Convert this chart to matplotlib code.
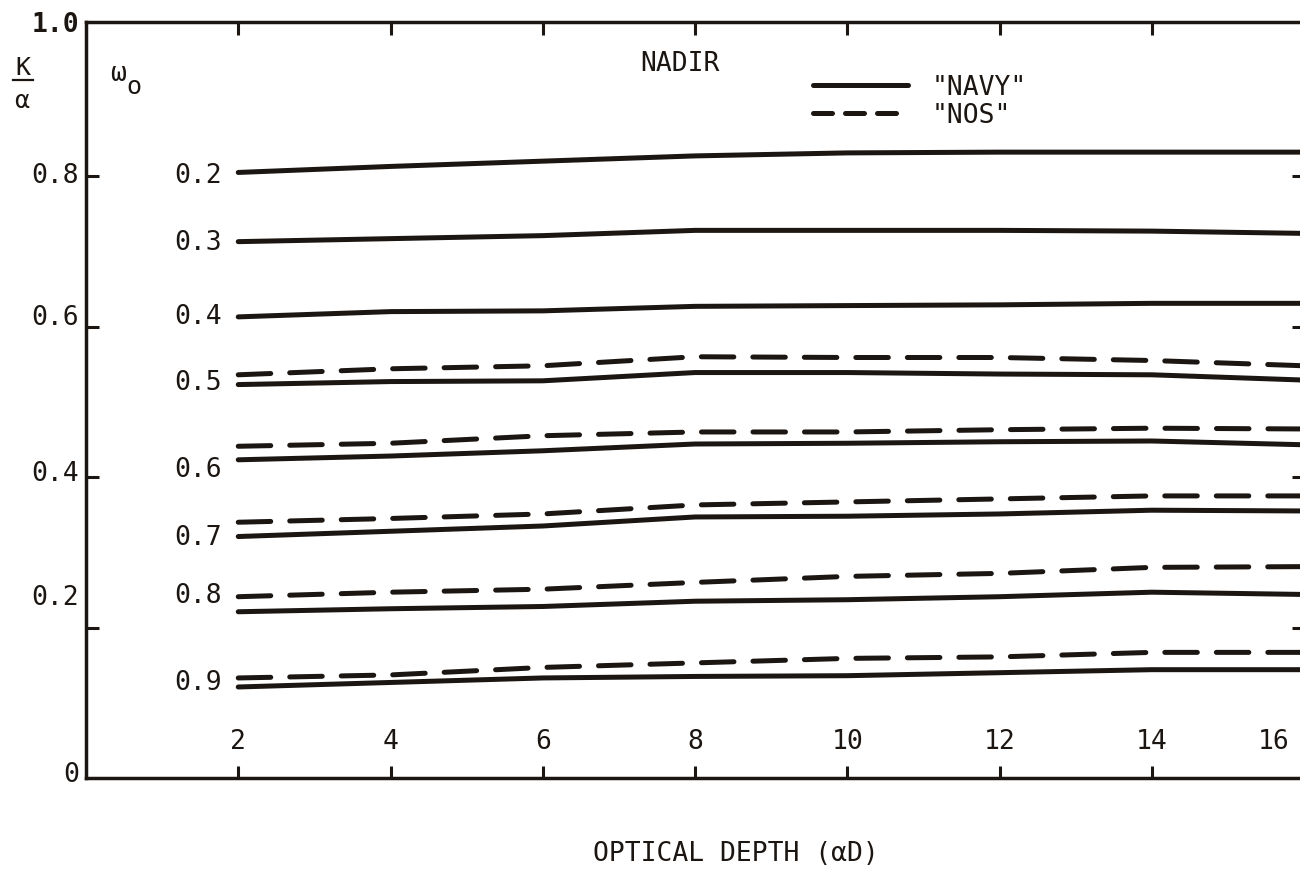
import matplotlib
matplotlib.use("Agg")
import matplotlib.pyplot as plt
from matplotlib.lines import Line2D

plt.rcParams['font.family'] = ['DejaVu Sans Mono', 'DejaVu Sans']

INK = '#1c1612'

# optical depth (alpha*D) where the curves were read
depth = [2, 4, 6, 8, 10, 12, 14, 16]

# K/alpha for each single-scattering albedo, "NAVY" model (solid)
navy = {
    '0.2': [0.805, 0.813, 0.820, 0.827, 0.831, 0.832, 0.832, 0.832],
    '0.3': [0.713, 0.717, 0.721, 0.728, 0.728, 0.728, 0.727, 0.724],
    '0.4': [0.613, 0.620, 0.621, 0.627, 0.628, 0.629, 0.631, 0.631],
    '0.5': [0.523, 0.527, 0.528, 0.539, 0.539, 0.537, 0.536, 0.529],
    '0.6': [0.423, 0.428, 0.435, 0.444, 0.445, 0.447, 0.448, 0.443],
    '0.7': [0.321, 0.328, 0.335, 0.347, 0.348, 0.351, 0.356, 0.355],
    '0.8': [0.221, 0.225, 0.228, 0.235, 0.237, 0.241, 0.247, 0.244],
    '0.9': [0.121, 0.127, 0.133, 0.135, 0.136, 0.140, 0.144, 0.144],
}

# "NOS" model (dashed), only computed for albedo 0.5 - 0.9
nos = {
    '0.5': [0.536, 0.544, 0.548, 0.560, 0.559, 0.559, 0.555, 0.548],
    '0.6': [0.441, 0.445, 0.455, 0.460, 0.460, 0.463, 0.465, 0.464],
    '0.7': [0.340, 0.345, 0.351, 0.363, 0.367, 0.371, 0.375, 0.375],
    '0.8': [0.241, 0.247, 0.251, 0.260, 0.268, 0.272, 0.280, 0.281],
    '0.9': [0.133, 0.137, 0.147, 0.153, 0.159, 0.161, 0.167, 0.167],
}

# where the albedo names sit next to the curves
albedo_label_y = [0.802, 0.713, 0.614, 0.527, 0.411, 0.320, 0.243, 0.128]

x_ticks = [2, 4, 6, 8, 10, 12, 14, 16]
x_tick_text_x = [2, 4, 6, 8, 10, 12, 14, 15.6]
y_ticks = [0.2, 0.4, 0.6, 0.8]
y_tick_text = ['0', '0.2', '0.4', '0.6', '0.8', '1.0']
y_tick_text_y = [0.005, 0.241, 0.406, 0.613, 0.802, 1.003]

fig = plt.figure(figsize=(13, 8.7), dpi=100)
ax = fig.add_axes([86 / 1300, 91 / 870, 1218 / 1300, 756 / 870])
ax.set_xlim(0, 16)
ax.set_ylim(0, 1.005)

lw = 3.6
for name, vals in navy.items():
    ax.plot(depth, vals, color=INK, lw=lw, solid_capstyle='round')
for name, vals in nos.items():
    ax.plot(depth, vals, color=INK, lw=lw, dashes=(6.5, 3.8),
            dash_capstyle='round')

for name, y in zip(navy.keys(), albedo_label_y):
    ax.text(1.78, y, name, ha='right', va='center', fontsize=19, color=INK)

# frame and inward ticks
for side in ['left', 'bottom', 'top', 'right']:
    ax.spines[side].set_linewidth(2.5)
    ax.spines[side].set_color(INK)
ax.set_xticks(x_ticks)
ax.set_yticks(y_ticks)
ax.tick_params(direction='in', length=9, width=2.2, color=INK,
               top=True, right=True, labelbottom=False, labelleft=False)

for x, t in zip(x_tick_text_x, x_ticks):
    ax.text(x, 0.049, str(t), ha='center', va='center', fontsize=19, color=INK)
for y, t in zip(y_tick_text_y, y_tick_text):
    ax.text(-0.09, y, t, ha='right', va='center', fontsize=19, color=INK,
            weight='bold' if t == '1.0' else 'normal', clip_on=False)

ax.text(7.80, 0.951, 'NADIR', ha='center', va='center', fontsize=19, color=INK)

handles = [Line2D([], [], color=INK, lw=lw, solid_capstyle='round'),
           Line2D([], [], color=INK, lw=lw, dashes=(3.8, 2.6), dash_capstyle='round')]
ax.legend(handles, ['"NAVY"', '"NOS"'], loc='upper left',
          bbox_to_anchor=(0.597, 0.931), frameon=False, fontsize=19,
          handlelength=3.6, handletextpad=0.9, labelspacing=0.08,
          borderpad=0, borderaxespad=0, labelcolor=INK)

ax.set_xlabel('OPTICAL DEPTH (αD)', fontsize=19, color=INK)
ax.xaxis.set_label_coords(0.5335, -0.082)

# K over alpha, stacked as a fraction
fig.text(23 / 1300, 1 - 68 / 870, 'K', ha='center', va='center', fontsize=18, color=INK)
fig.text(22 / 1300, 1 - 101 / 870, 'α', ha='center', va='center', fontsize=18, color=INK)
fig.add_artist(Line2D([13 / 1300, 33 / 1300], [1 - 81 / 870] * 2,
                      transform=fig.transFigure, color=INK, lw=1.6))

# omega_o heading over the albedo column
fig.text(118 / 1300, 1 - 74 / 870, 'ω', ha='center', va='center', fontsize=19, color=INK)
fig.text(134 / 1300, 1 - 87 / 870, 'o', ha='center', va='center', fontsize=18, color=INK)

fig.savefig('out.png', dpi=100, facecolor='white')
